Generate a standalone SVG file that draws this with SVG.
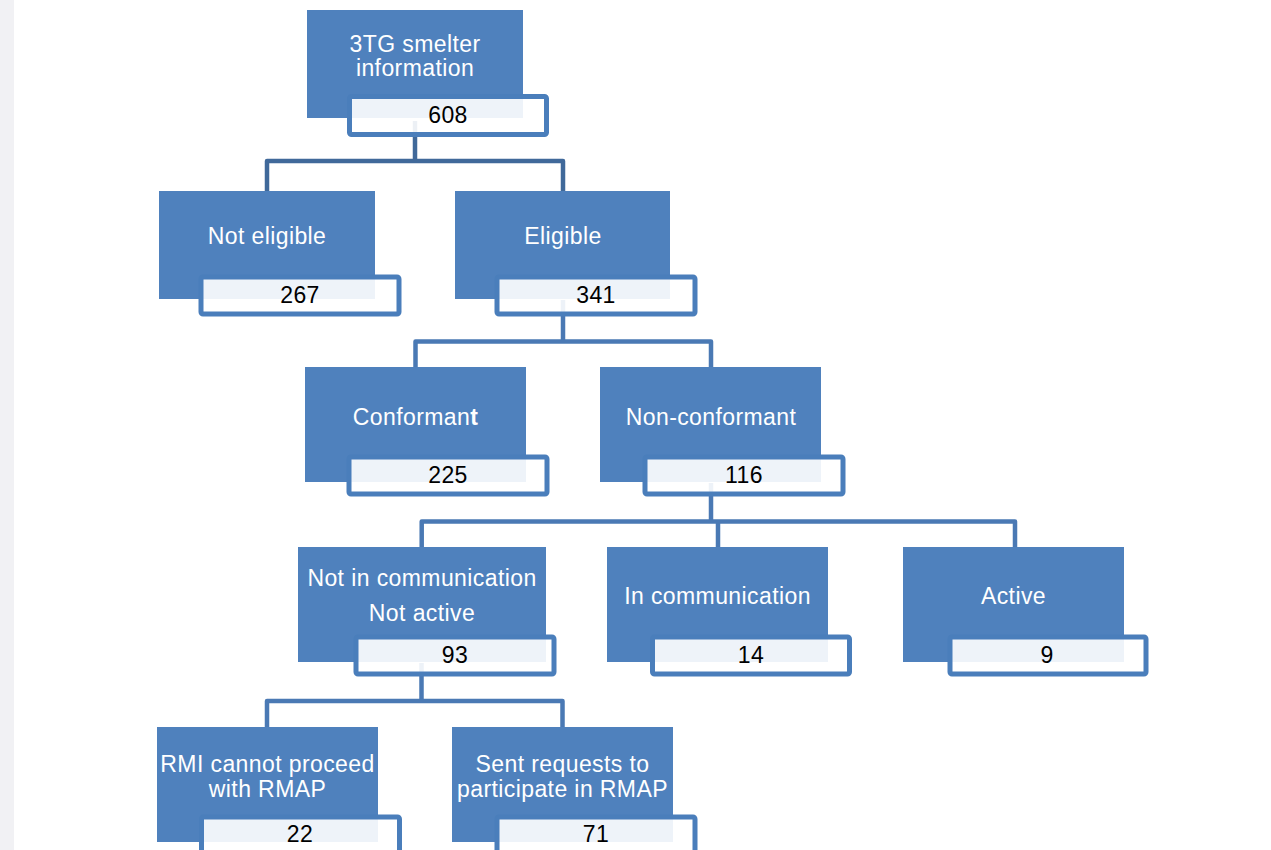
<svg xmlns="http://www.w3.org/2000/svg" width="1271" height="850" viewBox="0 0 1271 850">
<style>
.bg{fill:#ffffff}
.blk{fill:#4F81BD}
.box{fill:#ffffff;fill-opacity:0.9;stroke:#4A7EBB;stroke-width:5}
.lbl{font-family:"Liberation Sans",Arial,sans-serif;font-size:23px;letter-spacing:0.4px;fill:#ffffff;text-anchor:middle}
.num{font-family:"Liberation Sans",Arial,sans-serif;font-size:23px;letter-spacing:0.4px;fill:#000000;text-anchor:middle}
.c1{fill:none;stroke:#40699A;stroke-width:4.5;stroke-linejoin:round}
.c2{fill:none;stroke:#4A79B4;stroke-width:4.5;stroke-linejoin:round}
</style>
<rect class="bg" x="0" y="0" width="1271" height="850"/>
<rect x="0" y="0" width="14" height="850" fill="#F1F1F4"/>
<g id="connectors">
<path class="c1" d="M415,121 V161 M267,191 V161 H563 V191"/>
<path class="c2" d="M563,300 V341.5 M415.5,367 V341.5 H711 V367"/>
<path class="c2" d="M711,483 V521.5 M421.7,547 V521.5 H1015 V547 M718,521.5 V547"/>
<path class="c2" d="M421.5,663 V701 M267,727 V701 H562.5 V727"/>
</g>
<g id="n608">
<rect class="blk" x="307" y="10" width="216" height="108"/>
<rect class="box" x="349.5" y="96.5" width="197" height="38" rx="2"/>
<text class="lbl" x="415" y="52">3TG smelter</text>
<text class="lbl" x="415" y="76">information</text>
<text class="num" x="448" y="122.5">608</text>
</g>
<g id="n267">
<rect class="blk" x="159" y="191" width="216" height="108"/>
<rect class="box" x="201" y="277" width="198" height="37" rx="2"/>
<text class="lbl" x="267" y="244">Not eligible</text>
<text class="num" x="300" y="302.5">267</text>
</g>
<g id="n341">
<rect class="blk" x="455" y="191" width="215" height="108"/>
<rect class="box" x="497" y="277" width="198" height="37" rx="2"/>
<text class="lbl" x="563" y="244">Eligible</text>
<text class="num" x="596" y="302.5">341</text>
</g>
<g id="n225">
<rect class="blk" x="305" y="367" width="221" height="115"/>
<rect class="box" x="349" y="457" width="198" height="37" rx="2"/>
<text class="lbl" x="415.5" y="424.5">Conforman<tspan font-weight="bold">t</tspan></text>
<text class="num" x="448" y="482.5">225</text>
</g>
<g id="n116">
<rect class="blk" x="600" y="367" width="221" height="115"/>
<rect class="box" x="645" y="457" width="198" height="37" rx="2"/>
<text class="lbl" x="711" y="424.5">Non-conformant</text>
<text class="num" x="744" y="482.5">116</text>
</g>
<g id="n93">
<rect class="blk" x="298" y="547" width="248" height="115"/>
<rect class="box" x="356" y="637" width="198" height="37" rx="2"/>
<text class="lbl" x="422" y="586">Not in communication</text>
<text class="lbl" x="422" y="620.5">Not active</text>
<text class="num" x="455" y="662.5">93</text>
</g>
<g id="n14">
<rect class="blk" x="607" y="547" width="221" height="115"/>
<rect class="box" x="652.5" y="637" width="197" height="37" rx="2"/>
<text class="lbl" x="717.5" y="604">In communication</text>
<text class="num" x="751" y="662.5">14</text>
</g>
<g id="n9">
<rect class="blk" x="903" y="547" width="221" height="115"/>
<rect class="box" x="950" y="637" width="196" height="37" rx="2"/>
<text class="lbl" x="1013.5" y="604">Active</text>
<text class="num" x="1047" y="662.5">9</text>
</g>
<g id="n22">
<rect class="blk" x="157" y="727" width="221" height="115"/>
<rect class="box" x="201.5" y="817" width="198" height="37" rx="2"/>
<text class="lbl" x="267.5" y="771.5">RMI cannot proceed</text>
<text class="lbl" x="267.5" y="796.5">with RMAP</text>
<text class="num" x="300" y="842">22</text>
</g>
<g id="n71">
<rect class="blk" x="452" y="727" width="221" height="115"/>
<rect class="box" x="497" y="817" width="198" height="37" rx="2"/>
<text class="lbl" x="562.5" y="771.5">Sent requests to</text>
<text class="lbl" x="562.5" y="796.5">participate in RMAP</text>
<text class="num" x="596" y="842">71</text>
</g>
</svg>
